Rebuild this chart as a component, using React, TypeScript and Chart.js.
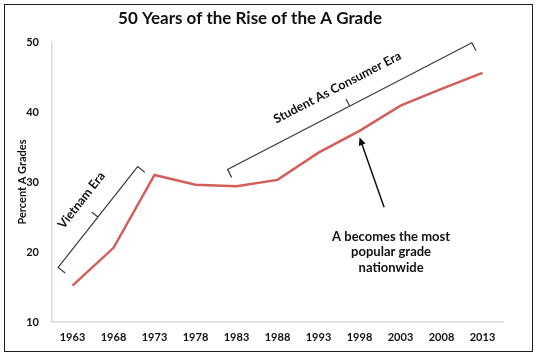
import React, { useEffect, useRef } from "react";
import { Chart, registerables } from "chart.js";

Chart.register(...registerables);

const years = ["1963", "1968", "1973", "1978", "1983", "1988", "1993", "1998", "2003", "2008", "2013"];
const percentA = [15.2, 20.6, 31.0, 29.6, 29.4, 30.3, 34.2, 37.3, 40.9, 43.3, 45.6];
const yMin = 10;
const yMax = 50;
const yStep = 10;

const chartTitle = "50 Years of the Rise of the A Grade";
const yAxisTitle = "Percent A Grades";

// Annotation brackets in data space: [category index, value]
const vietnamBracket = { from: [-0.35, 17.8], to: [1.59, 32.2], label: "Vietnam Era", labelAt: [0.22, 27.4] };
const consumerBracket = { from: [3.78, 31.8], to: [9.74, 49.9], label: "Student As Consumer Era", labelAt: [6.46, 43.5] };
const arrowNote = {
  from: [7.6, 26.4],
  to: [7.0, 36.4],
  lines: ["A becomes the most", "popular grade", "nationwide"],
  textAt: [7.77, 22.2],
};

const FONT = "Lato, 'Open Sans', sans-serif";

const annotPlugin = {
  id: "annot",
  beforeDraw(chart: any) {
    const ctx = chart.ctx;
    ctx.save();
    ctx.fillStyle = "#ffffff";
    ctx.fillRect(0, 0, chart.width, chart.height);
    ctx.restore();
  },
  afterDraw(chart: any) {
    const ctx: CanvasRenderingContext2D = chart.ctx;
    const xs = chart.scales.x;
    const ys = chart.scales.y;
    const px = (p: number[]) => [xs.getPixelForValue(p[0]), ys.getPixelForValue(p[1])];
    ctx.save();

    // frame
    ctx.strokeStyle = "#1e1e1e";
    ctx.lineWidth = 1;
    ctx.strokeRect(4.5, 4.5, 528, 347);

    // title
    ctx.fillStyle = "#111";
    ctx.font = `bold 17px ${FONT}`;
    ctx.textAlign = "center";
    ctx.textBaseline = "middle";
    ctx.fillText(chartTitle, 250, 19);

    const drawBracket = (b: any) => {
      const [x0, y0] = px(b.from);
      const [x1, y1] = px(b.to);
      const len = Math.hypot(x1 - x0, y1 - y0);
      const dx = (x1 - x0) / len;
      const dy = (y1 - y0) / len;
      const nx = -dy;
      const ny = dx;
      const hook = 9;
      ctx.strokeStyle = "#3a3a3a";
      ctx.lineWidth = 1.2;
      ctx.beginPath();
      ctx.moveTo(x0 + nx * hook, y0 + ny * hook);
      ctx.lineTo(x0, y0);
      ctx.lineTo(x1, y1);
      ctx.lineTo(x1 + nx * hook, y1 + ny * hook);
      const mx = (x0 + x1) / 2;
      const my = (y0 + y1) / 2;
      ctx.moveTo(mx, my);
      ctx.lineTo(mx - nx * 8, my - ny * 8);
      ctx.stroke();

      const [lx, ly] = px(b.labelAt);
      ctx.save();
      ctx.translate(lx, ly);
      ctx.rotate(Math.atan2(dy, dx));
      ctx.fillStyle = "#111";
      ctx.font = `bold 12.5px ${FONT}`;
      ctx.textAlign = "center";
      ctx.textBaseline = "middle";
      ctx.fillText(b.label, 0, 0);
      ctx.restore();
    };
    drawBracket(vietnamBracket);
    drawBracket(consumerBracket);

    // arrow
    const [ax0, ay0] = px(arrowNote.from);
    const [ax1, ay1] = px(arrowNote.to);
    const ang = Math.atan2(ay1 - ay0, ax1 - ax0);
    ctx.strokeStyle = "#111";
    ctx.fillStyle = "#111";
    ctx.lineWidth = 1.5;
    ctx.beginPath();
    ctx.moveTo(ax0, ay0);
    ctx.lineTo(ax1 - Math.cos(ang) * 5, ay1 - Math.sin(ang) * 5);
    ctx.stroke();
    const hl = 8;
    const hw = 3.5;
    ctx.beginPath();
    ctx.moveTo(ax1, ay1);
    ctx.lineTo(ax1 - Math.cos(ang) * hl - Math.sin(ang) * hw, ay1 - Math.sin(ang) * hl + Math.cos(ang) * hw);
    ctx.lineTo(ax1 - Math.cos(ang) * hl + Math.sin(ang) * hw, ay1 - Math.sin(ang) * hl - Math.cos(ang) * hw);
    ctx.closePath();
    ctx.fill();

    const [tx, ty] = px(arrowNote.textAt);
    ctx.font = `bold 13px ${FONT}`;
    ctx.textAlign = "center";
    ctx.textBaseline = "middle";
    arrowNote.lines.forEach((line, i) => ctx.fillText(line, tx, ty + i * 15.5));

    ctx.restore();
  },
};

export default function App() {
  const ref = useRef<HTMLCanvasElement | null>(null);
  useEffect(() => {
    document.body.style.margin = "0";
    const chart = new Chart(ref.current as HTMLCanvasElement, {
      type: "line",
      data: {
        labels: years,
        datasets: [
          {
            data: percentA,
            borderColor: "#d45f5a",
            borderWidth: 2.5,
            pointRadius: 0,
            tension: 0,
            fill: false,
          },
        ],
      },
      options: {
        responsive: false,
        animation: false,
        events: [],
        layout: { padding: { left: 0, right: 37, top: 42, bottom: 0 } },
        plugins: { legend: { display: false }, title: { display: false }, tooltip: { enabled: false } },
        scales: {
          x: {
            offset: true,
            grid: { display: false, drawTicks: false },
            border: { display: true, color: "#d9d9d9", width: 1.5 },
            ticks: { color: "#111", padding: 9, maxRotation: 0, autoSkip: false, font: { family: FONT, size: 11, weight: "bold" } },
            afterFit: (s: any) => {
              s.height = 37;
            },
          },
          y: {
            min: yMin,
            max: yMax,
            grid: { display: false, drawTicks: false },
            border: { display: true, color: "#d9d9d9", width: 1.5 },
            ticks: { stepSize: yStep, color: "#111", padding: 13, font: { family: FONT, size: 11, weight: "bold" } },
            title: {
              display: true,
              text: yAxisTitle,
              color: "#111",
              padding: { top: 15.5, bottom: 0 },
              font: { family: FONT, size: 11, weight: "bold" },
            },
            afterFit: (s: any) => {
              s.width = 52;
            },
          },
        },
      },
      plugins: [annotPlugin],
    } as any);
    return () => chart.destroy();
  }, []);
  return <canvas ref={ref} width={540} height={359} style={{ display: "block" }} />;
}
